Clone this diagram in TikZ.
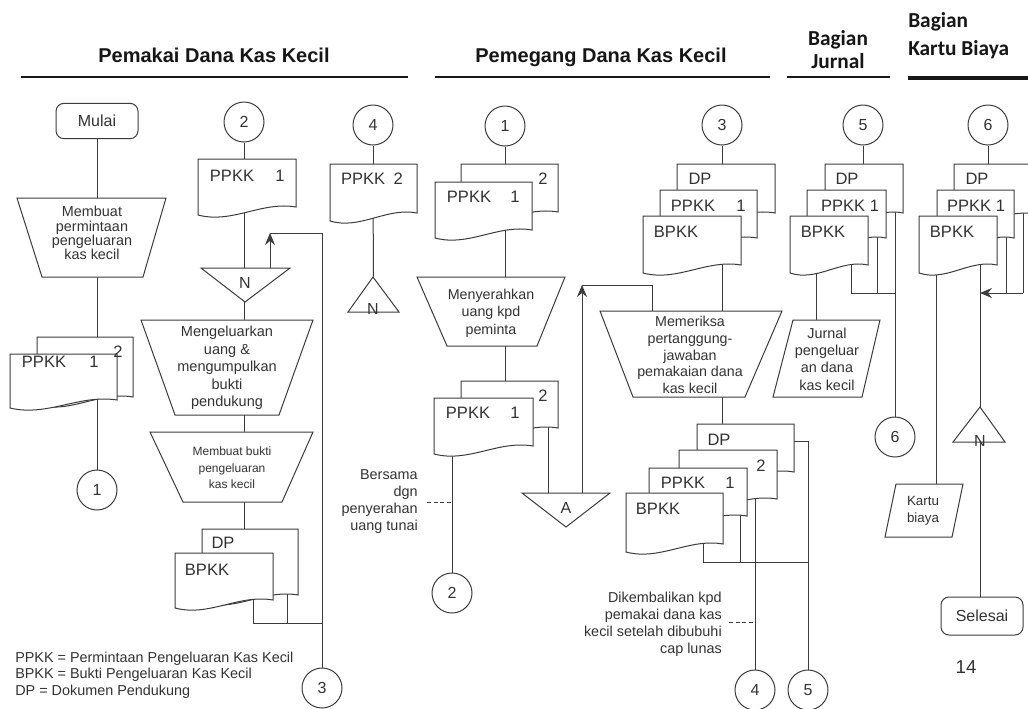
\documentclass[tikz,border=0pt]{standalone}
\usepackage{fontspec}
\setmainfont{Liberation Sans}
\newfontfamily\calibrifont{Carlito}
\usetikzlibrary{fit,arrows.meta}
\definecolor{lncol}{HTML}{3C3C3C}
\definecolor{txt}{HTML}{333333}
\definecolor{hdr}{HTML}{161616}
\pgfdeclarelayer{bg}
\pgfsetlayers{bg,main}
\newcommand\fs[2]{\fontsize{#1}{#2}\selectfont}
% invisible node covering the box (#2,#3)-(#4,#5), used to attach flow lines
\newcommand\boxnode[5]{%
  \coordinate (#1-p) at (#2,#3);
  \coordinate (#1-q) at (#4,#5);
  \node[fit=(#1-p)(#1-q), inner sep=0pt] (#1) {};
}
% document symbol with a wavy lower edge: #1 name, (#2,#3) top left, #4 right x, #5 lower left y
\newcommand\docsym[5]{%
  \filldraw[shp] (#2,#3) -- (#4,#3) -- (#4,{#5-8})
    .. controls ({#4-0.35*(#4-#2)},{#5-14}) and ({#2+0.35*(#4-#2)},{#5+9}) .. (#2,#5) -- cycle;
  \boxnode{#1}{#2}{#3}{#4}{#5}
}
\begin{document}
\begin{tikzpicture}[x=0.75pt,y=-0.75pt,
  ln/.style={draw=lncol, line width=0.75pt},
  dsh/.style={ln, dash pattern=on 3pt off 2pt},
  shp/.style={draw=lncol, fill=white, line width=0.75pt},
  circ/.style={circle, draw=lncol, fill=white, line width=0.75pt, minimum size=30pt, inner sep=0pt, text=txt, font=\fs{12}{14}},
  term/.style={rectangle, rounded corners=6pt, draw=lncol, fill=white, line width=0.75pt, minimum width=61.5pt, minimum height=26.5pt, inner sep=0pt, text=txt, font=\fs{12}{14}},
  lbl/.style={inner sep=0pt, text=txt},
  doct/.style={lbl, font=\fs{12.4}{14}},
  proc/.style={lbl, align=center, font=\fs{10.8}{12.9}},
  annot/.style={lbl, align=right, font=\fs{10.8}{12.75}},
  arr/.style={ln, -{Stealth[length=9pt,width=7.5pt,inset=3pt]}},
  hline/.style={draw=hdr, line width=1.5pt},
  hdrtxt/.style={inner sep=0pt, text=hdr, font=\bfseries\fs{15}{18}},
  hdrcal/.style={inner sep=0pt, text=hdr, font=\calibrifont\bfseries\fs{16}{18}},
]
\begin{pgfonlayer}{bg}
  \fill[white] (0,0) rectangle (1028,708);
\end{pgfonlayer}
\useasboundingbox (0,0) rectangle (1028,708);

% ---------- lane headings ----------
\node[hdrtxt, anchor=base] (hPemakai) at (214,62) {Pemakai Dana Kas Kecil};
\node[hdrtxt, anchor=base] (hPemegang) at (601,62) {Pemegang Dana Kas Kecil};
\node[hdrcal, anchor=base] (hJurnalA) at (838,45) {Bagian};
\node[hdrcal, anchor=base] (hJurnalB) at (838,68) {Jurnal};
\node[hdrcal, anchor=base west] (hKartuA) at (908,27) {Bagian};
\node[hdrcal, anchor=base west] (hKartuB) at (908,55) {Kartu Biaya};
\draw[hline] (21,77) -- (408,77);
\draw[hline] (435,77) -- (770,77);
\draw[hline] (787,77) -- (890,77);
\draw[hline, line width=2.5pt] (908,78) -- (1028,78);

% ---------- Pemakai: request ----------
\node[term] (mulai) at (97,121) {Mulai};
\filldraw[shp] (17,198) -- (166,198) -- (143,277) -- (42,277) -- cycle;
\boxnode{T1}{17}{198}{166}{277}
\node[proc, font=\fs{10.8}{10.7}] (T1t) at (92,233) {Membuat\\permintaan\\pengeluaran\\kas kecil};
\docsym{D1b}{37}{337}{133}{405}
\docsym{D1f}{10}{354}{117}{408}
\node[doct] (D1t) at (44,362) {PPKK};
\node[doct] (D1n) at (94,362) {1};
\node[doct] (D1c) at (118,352) {2};
\node[circ] (c1a) at (97,490) {1};

% ---------- Pemakai: spending ----------
\node[circ] (c2a) at (244,122) {2};
\docsym{D2}{198}{159}{296}{215}
\node[doct] (D2t) at (232,176) {PPKK};
\node[doct] (D2n) at (280,176) {1};
\filldraw[shp] (201,268) -- (290,268) -- (245,302) -- cycle;
\boxnode{N2}{201}{268}{290}{302}
\node[lbl, font=\fs{12}{14}] (N2t) at (245,283) {N};
\filldraw[shp] (141,320) -- (313,320) -- (279,415) -- (175,415) -- cycle;
\boxnode{T2}{141}{320}{313}{415}
\node[proc, font=\fs{10.9}{13.1}] (T2t) at (227,368) {Mengeluarkan\\uang \&\\mengumpulkan\\bukti\\pendukung};
\filldraw[shp] (150,432) -- (313,432) -- (282,502) -- (183,502) -- cycle;
\boxnode{T3}{150}{432}{313}{502}
\node[proc, font=\fs{9}{12.4}] (T3t) at (232,468) {Membuat bukti\\pengeluaran\\kas kecil};
\docsym{D3b}{202}{529}{298}{603}
\docsym{D3f}{175}{553}{273}{608}
\node[doct] (D3a) at (223,543) {DP};
\node[doct] (D3t) at (207,570) {BPKK};
\node[circ] (c3a) at (322,688) {3};

% ---------- Pemakai: filed copy ----------
\node[circ] (c4a) at (373,125) {4};
\docsym{D4}{330}{164}{417}{221}
\node[doct] (D4t) at (372,179) {PPKK\hspace{3pt} 2};
\filldraw[shp] (373,277) -- (399,312) -- (348,312) -- cycle;
\boxnode{N4}{348}{277}{399}{312}
\node[lbl, font=\fs{12}{14}] (N4t) at (373,309) {N};

% ---------- Pemegang: paying out ----------
\node[circ] (c1b) at (505,126) {1};
\docsym{D5b}{461}{164}{558}{220}
\docsym{D5f}{435}{182}{532}{238}
\node[doct] (D5t) at (469,197) {PPKK};
\node[doct] (D5n) at (515,197) {1};
\node[doct] (D5c) at (543,179) {2};
\filldraw[shp] (417,277) -- (565,277) -- (537,346) -- (447,346) -- cycle;
\boxnode{T4}{417}{277}{565}{346}
\node[proc, font=\fs{10.7}{13.1}] (T4t) at (491,313) {Menyerahkan\\uang kpd\\peminta};
\docsym{D6b}{461}{381}{558}{436}
\docsym{D6f}{434}{398}{533}{454}
\node[doct] (D6t) at (468,413) {PPKK};
\node[doct] (D6n) at (515,413) {1};
\node[doct] (D6c) at (543,396) {2};
\node[circ] (c2b) at (452,593) {2};
\node[annot, anchor=east] (nb1) at (418,502) {Bersama\\dgn\\penyerahan\\uang tunai};
\filldraw[shp] (522,493) -- (610,493) -- (566,527) -- cycle;
\boxnode{A}{522}{493}{610}{527}
\node[lbl, font=\fs{12}{14}] (At) at (566,508) {A};

% ---------- Pemegang: checking ----------
\node[circ] (c3b) at (722,125) {3};
\docsym{D7a}{677}{164}{775}{221}
\docsym{D7b}{660}{190}{757}{246}
\docsym{D7c}{643}{216}{741}{273}
\node[doct] (D7a-t) at (700,179) {DP};
\node[doct] (D7b-t) at (693,206) {PPKK};
\node[doct] (D7b-n) at (741,206) {1};
\node[doct] (D7c-t) at (676,232) {BPKK};
\filldraw[shp] (600,311) -- (782,311) -- (745,397) -- (633,397) -- cycle;
\boxnode{T5}{600}{311}{782}{397}
\node[proc, font=\fs{10.7}{12.6}] (T5t) at (690,355) {Memeriksa\\pertanggung-\\jawaban\\pemakaian dana\\kas kecil};
\docsym{D8a}{697}{424}{794}{480}
\docsym{D8b}{679}{450}{777}{507}
\docsym{D8c}{649}{468}{747}{524}
\docsym{D8d}{626}{493}{723}{552}
\node[doct] (D8a-t) at (719,440) {DP};
\node[doct] (D8b-t) at (761,466) {2};
\node[doct] (D8c-t) at (683,483) {PPKK};
\node[doct] (D8c-n) at (730,483) {1};
\node[doct] (D8d-t) at (658,509) {BPKK};
\node[circ] (c4b) at (755,690) {4};
\node[circ] (c5b) at (808,690) {5};
\node[annot, anchor=east] (nb2) at (722,624) {Dikembalikan kpd\\pemakai dana kas\\kecil setelah dibubuhi\\cap lunas};

% ---------- Bagian Jurnal ----------
\node[circ] (c5a) at (863,125) {5};
\docsym{D9a}{825}{164}{903}{221}
\docsym{D9b}{807}{190}{886}{246}
\docsym{D9c}{790}{216}{868}{273}
\node[doct] (D9a-t) at (847,179) {DP};
\node[doct] (D9b-t) at (850,206) {PPKK 1};
\node[doct] (D9c-t) at (823,232) {BPKK};
\filldraw[shp] (793,320) -- (880,320) -- (862,397) -- (773,397) -- cycle;
\boxnode{P1}{773}{320}{880}{397}
\node[proc, font=\fs{10.8}{13}] (P1t) at (827,359) {Jurnal\\pengeluar\\an dana\\kas kecil};
\node[circ] (c6b) at (895,437) {6};

% ---------- Bagian Kartu Biaya ----------
\node[circ] (c6a) at (988,125) {6};
\filldraw[shp] (1028,164) -- (954,164) -- (954,221)
  .. controls (980,224) and (1000,213) .. (1028,213);
\boxnode{D10a}{954}{164}{1028}{221}
\docsym{D10b}{937}{190}{1014}{246}
\docsym{D10c}{919}{216}{997}{273}
\node[doct] (D10a-t) at (977,179) {DP};
\node[doct] (D10b-t) at (976,206) {PPKK 1};
\node[doct] (D10c-t) at (952,232) {BPKK};
\filldraw[shp] (980,407) -- (1005,442) -- (953,442) -- cycle;
\boxnode{N8}{953}{407}{1005}{442}
\node[lbl, font=\fs{12}{14}] (N8t) at (980,441) {N};
\filldraw[shp] (896,484) -- (963,484) -- (952,537) -- (885,537) -- cycle;
\boxnode{P2}{885}{484}{963}{537}
\node[proc, font=\fs{10}{12.75}] (P2t) at (923,511) {Kartu\\biaya};
\node[term, minimum height=28.5pt] (selesai) at (982,616) {Selesai};
\node[lbl, font=\fs{14}{16}] (pageno) at (966,667) {14};

% ---------- abbreviations ----------
\node[lbl, align=left, anchor=west, font=\fs{10.8}{12.5}] (legend) at (15,675)
  {PPKK = Permintaan Pengeluaran Kas Kecil\\BPKK = Bukti Pengeluaran Kas Kecil\\DP = Dokumen Pendukung};

% ---------- flow lines (under the symbols) ----------
\begin{pgfonlayer}{bg}
  % lane 1
  \draw[ln] (mulai) -- (mulai |- T1.north);
  \draw[ln] (mulai |- T1.south) -- (mulai |- D1b.north);
  \draw[ln] (mulai |- D1f.center) -- (c1a);
  % lane 2
  \draw[ln] (c2a) -- (c2a |- D2.north);
  \draw[ln] (c2a |- D2.center) -- (c2a |- N2.north);
  \draw[ln] (c2a |- N2.south) -- (c2a |- T2.north);
  \draw[ln] (c2a |- T2.south) -- (c2a |- T3.north);
  \draw[ln] (c2a |- T3.south) -- (c2a |- D3b.north);
  \coordinate (k2) at (270,233);
  \coordinate (j3) at (322,623);
  \coordinate (d3f-out) at (253,590);
  \coordinate (d3b-out) at (287,580);
  \draw[ln] (c3a) -- (c3a |- k2) -- (k2);
  \draw[arr] (k2 |- N2.north) -- (k2);
  \draw[ln] (d3f-out) |- (j3);
  \draw[ln] (d3b-out) -- (d3b-out |- j3);
  % lane 3
  \draw[ln] (c4a) -- (c4a |- D4.north);
  \draw[ln] (c4a |- D4.center) -- (N4.north);
  % lane 4
  \draw[ln] (c1b) -- (c1b |- D5b.north);
  \draw[ln] (c1b |- D5f.center) -- (c1b |- T4.north);
  \draw[ln] (c1b |- T4.south) -- (c1b |- D6b.north);
  \draw[ln] (c2b |- D6f.center) -- (c2b);
  \coordinate (dash1) at (427,502);
  \draw[dsh] (dash1) -- (dash1 -| c2b);
  \coordinate (d6b-out) at (548,425);
  \draw[ln] (d6b-out) -- (d6b-out |- A.north);
  \coordinate (k5) at (582,285);
  \coordinate (k5b) at (652,285);
  \draw[arr] (k5 |- A.north) -- (k5);
  \draw[ln] (k5) -- (k5b) -- (k5b |- T5.north);
  % lane 5
  \draw[ln] (c3b) -- (c3b |- D7a.north);
  \draw[ln] (c3b |- D7c.center) -- (c3b |- T5.north);
  \draw[ln] (c3b |- T5.south) -- (c3b |- D8a.north);
  \draw[ln] (c4b |- D8b.center) -- (c4b);
  \coordinate (j6) at (808,562);
  \coordinate (j6t) at (808,441);
  \coordinate (d8a-out) at (780,441);
  \coordinate (d8d-out) at (703,540);
  \coordinate (d8c-out) at (740,510);
  \draw[ln] (d8a-out) -- (j6t) -- (c5b);
  \draw[ln] (d8d-out) |- (j6);
  \draw[ln] (d8c-out) -- (d8c-out |- j6);
  \coordinate (dash2) at (729,622);
  \draw[dsh] (dash2) -- (dash2 -| c4b);
  % lane 6
  \draw[ln] (c5a) -- (c5a |- D9a.north);
  \coordinate (d9c-outA) at (816,250);
  \coordinate (d9c-outB) at (851,255);
  \coordinate (d9b-out) at (877,230);
  \coordinate (d9a-out) at (895,200);
  \coordinate (j7) at (895,293);
  \draw[ln] (d9c-outA) -- (d9c-outA |- P1.north);
  \draw[ln] (d9c-outB) |- (j7);
  \draw[ln] (d9b-out) -- (d9b-out |- j7);
  \draw[ln] (d9a-out) -- (c6b);
  % lane 7
  \draw[ln] (c6a) -- (c6a |- D10a.north);
  \coordinate (d10c-outA) at (936,250);
  \coordinate (d10c-outB) at (980,250);
  \coordinate (d10b-out) at (1006,230);
  \coordinate (d10a-out) at (1023,200);
  \coordinate (j8) at (1023,293);
  \draw[ln] (d10c-outA) -- (d10c-outA |- P2.north);
  \draw[ln] (d10c-outB) -- (selesai.north -| d10c-outB);
  \draw[ln] (d10a-out) -- (j8);
  \draw[ln] (d10b-out) -- (d10b-out |- j8);
  \draw[arr] (j8) -- (j8 -| d10c-outB);
\end{pgfonlayer}
\end{tikzpicture}
\end{document}
